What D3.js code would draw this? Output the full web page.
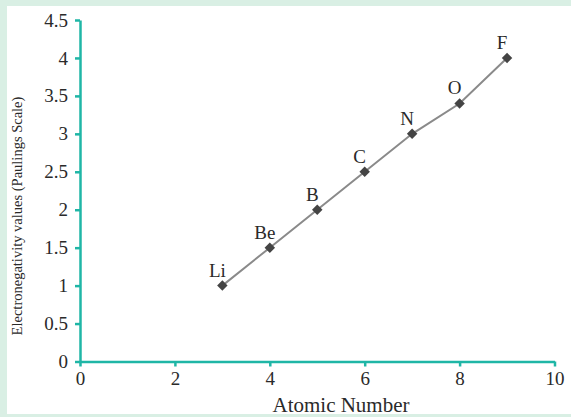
<!DOCTYPE html>
<html>
<head>
<meta charset="utf-8">
<script src="https://cdn.jsdelivr.net/npm/d3@7"></script>
<style>
  body { margin: 0; background: #d9efe4; }
  svg { display: block; }
</style>
</head>
<body>
<div id="chart"></div>
<script>
// data
const elements = ['Li', 'Be', 'B', 'C', 'N', 'O', 'F'];
const atomicNumbers = [3, 4, 5, 6, 7, 8, 9];
const electronegativity = [1.0, 1.5, 2.0, 2.5, 3.0, 3.4, 4.0];
const xTicks = [0, 2, 4, 6, 8, 10];
const yTicks = [0, 0.5, 1, 1.5, 2, 2.5, 3, 3.5, 4, 4.5];

const width = 571, height = 417;
const margin = { left: 80, right: 16.5, top: 20, bottom: 55.5 };
const axisColor = '#1fb6a6';
const serif = '"Liberation Serif", "DejaVu Serif", serif';

const svg = d3.select('#chart').append('svg')
    .attr('width', width)
    .attr('height', height);

// page panel
svg.append('rect')
    .attr('x', 7).attr('y', 6)
    .attr('width', width - 7).attr('height', 408)
    .attr('fill', '#fff');

const x = d3.scaleLinear()
    .domain([0, 10])
    .range([margin.left, width - margin.right]);

const y = d3.scaleLinear()
    .domain([0, 4.5])
    .range([height - margin.bottom, margin.top]);

const points = elements.map((e, i) => ({ name: e, x: atomicNumbers[i], y: electronegativity[i] }));

// axes
const xAxis = svg.append('g')
    .attr('transform', `translate(0,${y(0)})`)
    .call(d3.axisBottom(x).tickValues(xTicks).tickSize(5).tickSizeOuter(0).tickPadding(5));

const yAxis = svg.append('g')
    .attr('transform', `translate(${x(0)},0)`)
    .call(d3.axisLeft(y).tickValues(yTicks).tickSize(5).tickSizeOuter(0).tickPadding(7)
        .tickFormat(d3.format('')));

[xAxis, yAxis].forEach(g => {
    g.attr('font-size', null).attr('font-family', null);
    g.select('.domain').attr('stroke', axisColor).attr('stroke-width', 2.5);
    g.selectAll('.tick line').attr('stroke', axisColor).attr('stroke-width', 2.5);
    g.selectAll('.tick text')
        .attr('fill', '#2a2a2a')
        .style('font-family', serif)
        .style('font-size', '19px');
});

// line
const line = d3.line()
    .x(d => x(d.x))
    .y(d => y(d.y));

svg.append('path')
    .datum(points)
    .attr('d', line)
    .attr('fill', 'none')
    .attr('stroke', '#8a8a8a')
    .attr('stroke-width', 2);

// diamond markers
svg.selectAll('.dot')
    .data(points)
    .enter().append('path')
    .attr('class', 'dot')
    .attr('d', d3.symbol(d3.symbolDiamond2, 70))
    .attr('transform', d => `translate(${x(d.x)},${y(d.y)})`)
    .attr('fill', '#444');

// element labels
svg.selectAll('.lbl')
    .data(points)
    .enter().append('text')
    .attr('class', 'lbl')
    .attr('x', d => x(d.x) - 5)
    .attr('y', d => y(d.y) - 9)
    .attr('text-anchor', 'middle')
    .attr('fill', '#2a2a2a')
    .style('font-family', serif)
    .style('font-size', '19px')
    .text(d => d.name);

// axis titles
svg.append('text')
    .attr('x', 341)
    .attr('y', 412)
    .attr('text-anchor', 'middle')
    .attr('fill', '#2a2a2a')
    .style('font-family', serif)
    .style('font-size', '21px')
    .text('Atomic Number');

svg.append('text')
    .attr('transform', 'translate(22,216) rotate(-90)')
    .attr('text-anchor', 'middle')
    .attr('fill', '#2a2a2a')
    .style('font-family', serif)
    .style('font-size', '14.5px')
    .text('Electronegativity values (Paulings Scale)');
</script>
</body>
</html>
